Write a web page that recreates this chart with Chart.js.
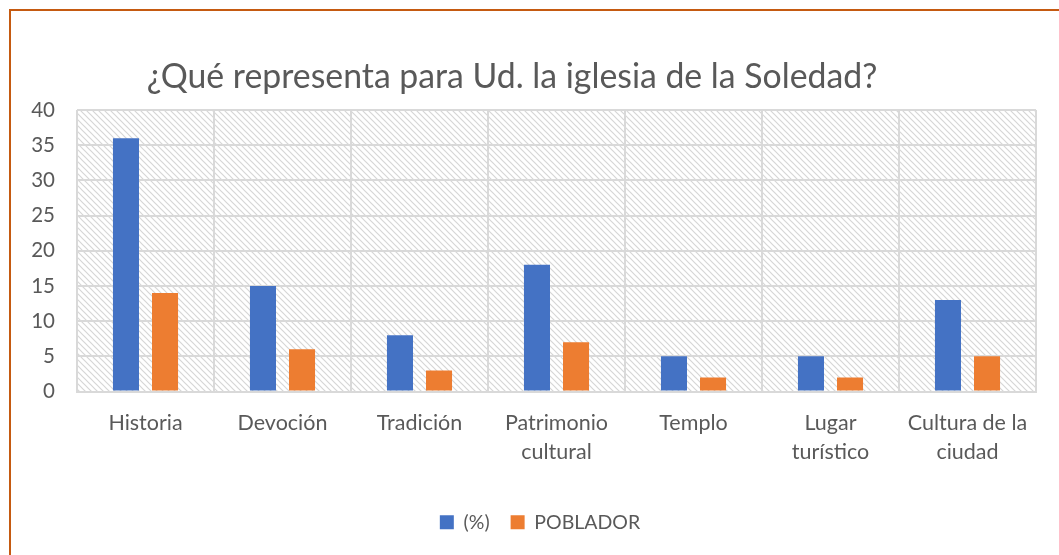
<!DOCTYPE html>
<html>
<head>
<meta charset="utf-8">
<script src="https://cdn.jsdelivr.net/npm/chart.js@4"></script>
<style>
  html, body { margin: 0; padding: 0; background: #fff; overflow: hidden; }
  #frame { position: absolute; left: 9px; top: 9px; width: 1100px; height: 600px;
           border-top: 2px solid #c55a11; border-left: 2px solid #c55a11; }
  #wrap { position: absolute; left: 0; top: 0; width: 1059px; height: 555px; }
</style>
</head>
<body>
<div id="frame"></div>
<div id="wrap"><canvas id="chart"></canvas></div>
<script>
const categories = [
  'Historia', 'Devoción', 'Tradición', ['Patrimonio', 'cultural'],
  'Templo', ['Lugar', 'turístico'], ['Cultura de la', 'ciudad']
];
const percentValues = [36, 15, 8, 18, 5, 5, 13];
const pobladorValues = [14, 6, 3, 7, 2, 2, 5];
const yTicks = [0, 5, 10, 15, 20, 25, 30, 35, 40];

const FONT = 'Lato, "Open Sans", sans-serif';
const TEXT = '#595959';
const GRID = '#d9d9d9';

function hatchPattern(ctx) {
  const tile = document.createElement('canvas');
  tile.width = 6; tile.height = 6;
  const t = tile.getContext('2d');
  t.fillStyle = '#fff';
  t.fillRect(0, 0, 6, 6);
  t.strokeStyle = '#d6d6d6';
  t.lineWidth = 1.2;
  t.beginPath();
  t.moveTo(-1, -1); t.lineTo(7, 7);
  t.moveTo(-1, 5); t.lineTo(1, 7);
  t.moveTo(5, -1); t.lineTo(7, 1);
  t.stroke();
  return ctx.createPattern(tile, 'repeat');
}

const plotBackground = {
  id: 'plotBackground',
  beforeDraw(chart) {
    const { ctx, chartArea: a } = chart;
    ctx.save();
    ctx.fillStyle = hatchPattern(ctx);
    ctx.fillRect(a.left, a.top, a.right - a.left, a.bottom - a.top);
    ctx.restore();
  }
};

const titleText = {
  id: 'titleText',
  afterDraw(chart) {
    const ctx = chart.ctx;
    ctx.save();
    ctx.font = '33.8px ' + FONT;
    ctx.fillStyle = TEXT;
    ctx.textAlign = 'center';
    ctx.textBaseline = 'middle';
    ctx.fillText('¿Qué representa para Ud. la iglesia de la Soledad?', 512, 77);
    ctx.restore();
  }
};

// legend sits a little right of the canvas centre in the original
const legendShift = {
  id: 'legendShift',
  afterLayout(chart) {
    chart.legend.left += 22;
    chart.legend.right += 22;
  }
};

new Chart(document.getElementById('chart'), {
  type: 'bar',
  data: {
    labels: categories,
    datasets: [
      { label: '(%)', data: percentValues, backgroundColor: '#4472c4' },
      { label: 'POBLADOR', data: pobladorValues, backgroundColor: '#ed7d31' }
    ]
  },
  options: {
    responsive: true,
    maintainAspectRatio: false,
    animation: false,
    datasets: { bar: { categoryPercentage: 0.57, barPercentage: 0.667 } },
    layout: { padding: { top: 110, right: 23, left: 0, bottom: 13 } },
    plugins: {
      title: { display: false },
      tooltip: { enabled: false },
      legend: {
        position: 'bottom',
        labels: {
          font: { family: FONT, size: 19.5 },
          color: TEXT,
          boxWidth: 14,
          boxHeight: 14,
          padding: 21
        }
      }
    },
    scales: {
      x: {
        grid: { color: GRID, lineWidth: 2, offset: true, drawTicks: false },
        border: { color: GRID, width: 2 },
        ticks: { font: { family: FONT, size: 21.5, lineHeight: 1.35 }, color: TEXT, padding: 17, maxRotation: 0, autoSkip: false },
        afterFit(scale) { scale.height = 100; }
      },
      y: {
        min: 0, max: 40,
        afterBuildTicks(scale) { scale.ticks = yTicks.map(v => ({ value: v })); },
        grid: { color: GRID, lineWidth: 2, drawTicks: false },
        border: { display: false },
        ticks: { font: { family: FONT, size: 20.5 }, color: TEXT, padding: 22 },
        afterFit(scale) { scale.width = 77; }
      }
    }
  },
  plugins: [plotBackground, titleText, legendShift]
});
</script>
</body>
</html>
